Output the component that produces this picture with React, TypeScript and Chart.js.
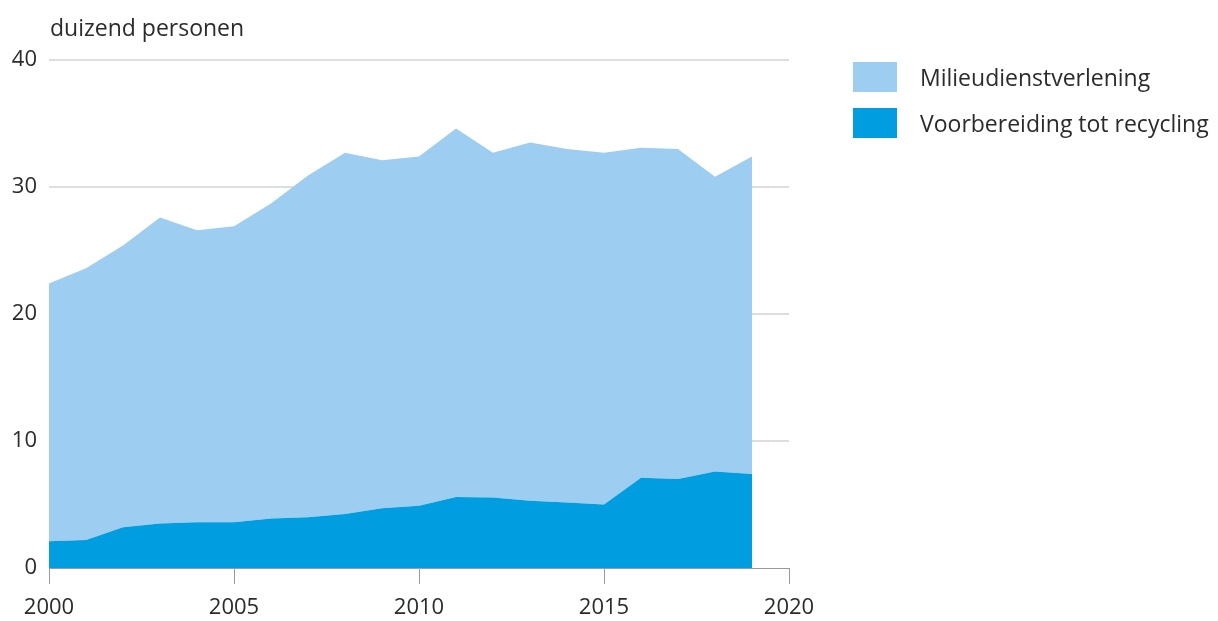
import React, { useEffect, useRef } from "react";
import { Chart, registerables } from "chart.js";

Chart.register(...registerables);

const years = [2000, 2001, 2002, 2003, 2004, 2005, 2006, 2007, 2008, 2009, 2010, 2011, 2012, 2013, 2014, 2015, 2016, 2017, 2018, 2019];
const voorbereiding = [2.1, 2.2, 3.2, 3.5, 3.6, 3.6, 3.9, 4.0, 4.25, 4.7, 4.9, 5.6, 5.55, 5.3, 5.15, 5.0, 7.1, 7.0, 7.6, 7.4];
const totaal = [22.4, 23.6, 25.4, 27.6, 26.6, 26.9, 28.7, 30.9, 32.7, 32.1, 32.4, 34.6, 32.7, 33.5, 33.0, 32.7, 33.1, 33.0, 30.8, 32.4];
const milieu = totaal.map((t, i) => Math.round((t - voorbereiding[i]) * 100) / 100);

const labelMilieu = "Milieudienstverlening";
const labelVoorb = "Voorbereiding tot recycling";
const unitLabel = "duizend personen";
const colorLight = "#9dcdf1";
const colorDark = "#009ee0";
const FONT = "'Open Sans', sans-serif";

export default function App() {
  const ref = useRef<HTMLCanvasElement | null>(null);
  useEffect(() => {
    document.body.style.margin = "0";
    const ctx = ref.current!;
    const chart = new Chart(ctx, {
      type: "line",
      data: {
        datasets: [
          {
            label: labelVoorb,
            data: years.map((y, i) => ({ x: y, y: voorbereiding[i] })),
            backgroundColor: colorDark,
            borderWidth: 0,
            pointRadius: 0,
            fill: "origin",
            tension: 0,
          },
          {
            label: labelMilieu,
            data: years.map((y, i) => ({ x: y, y: milieu[i] })),
            backgroundColor: colorLight,
            borderWidth: 0,
            pointRadius: 0,
            fill: "-1",
            tension: 0,
          },
        ],
      },
      options: {
        animation: false,
        responsive: false,
        layout: { padding: { left: 0, right: 429, top: 60, bottom: 0 } },
        plugins: { legend: { display: false }, tooltip: { enabled: false } },
        scales: {
          x: {
            type: "linear",
            min: 2000,
            max: 2020,
            afterFit: (s: any) => { s.height = 53; },
            grid: { drawOnChartArea: false, color: "#9a9a9a", tickLength: 16, lineWidth: 1 },
            border: { color: "#9a9a9a", width: 1 },
            ticks: {
              stepSize: 5,
              padding: 11,
              color: "#2b2b2b",
              font: { family: FONT, size: 22 },
              callback: (v: any) => String(v),
              maxRotation: 0,
            },
          },
          y: {
            stacked: true,
            min: 0,
            max: 40,
            afterFit: (s: any) => { s.width = 49; },
            grid: { color: (c: any) => (c.tick && c.tick.value === 0 ? "rgba(0,0,0,0)" : "#dedede"), drawTicks: false, lineWidth: 2 },
            border: { display: false },
            ticks: {
              stepSize: 10,
              padding: 12,
              color: "#2b2b2b",
              font: { family: FONT, size: 22 },
            },
          },
        },
      },
    });
    return () => chart.destroy();
  }, []);

  const legendItem = (color: string, text: string, top: number) => (
    <div style={{ position: "absolute", left: 853, top, display: "flex", alignItems: "center" }}>
      <div style={{ width: 44, height: 30, background: color }} />
      <span style={{ marginLeft: 23, fontFamily: FONT, fontSize: 23, color: "#2b2b2b", whiteSpace: "nowrap" }}>{text}</span>
    </div>
  );

  return (
    <div style={{ position: "relative", width: 1218, height: 621, background: "#fff" }}>
      <canvas ref={ref} width={1218} height={621} style={{ position: "absolute", left: 0, top: 0 }} />
      <div style={{ position: "absolute", left: 50, top: 11, fontFamily: FONT, fontSize: 23, color: "#2b2b2b", whiteSpace: "nowrap" }}>{unitLabel}</div>
      {legendItem(colorLight, labelMilieu, 61)}
      {legendItem(colorDark, labelVoorb, 107)}
    </div>
  );
}
